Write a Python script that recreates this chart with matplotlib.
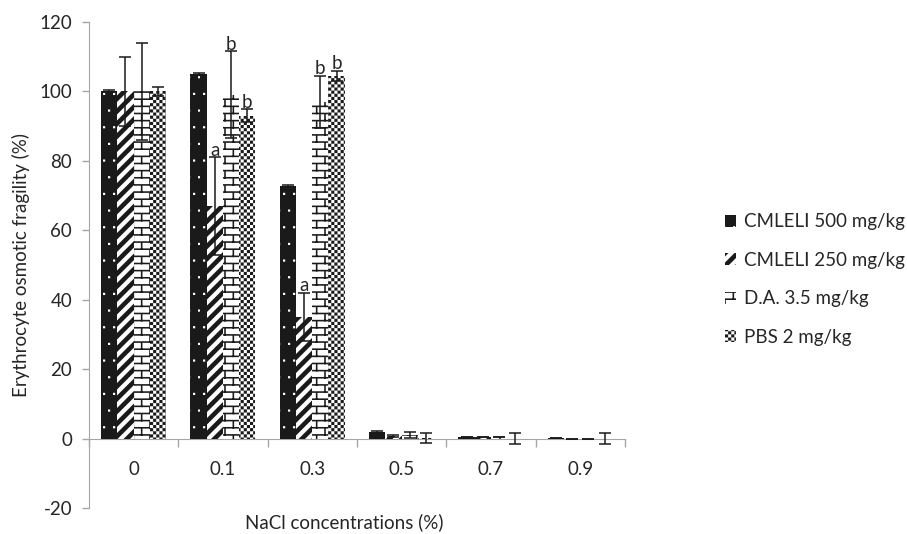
import warnings
import numpy as np
import matplotlib
matplotlib.use('Agg')
import matplotlib.pyplot as plt
import matplotlib.hatch as mhatch
from matplotlib.path import Path

warnings.filterwarnings('ignore')

# ---------------------------------------------------------------- data
nacl = ['0', '0.1', '0.3', '0.5', '0.7', '0.9']
groups = ['CMLELI 500 mg/kg', 'CMLELI 250 mg/kg', 'D.A. 3.5 mg/kg', 'PBS 2 mg/kg']
cmleli500 = [100.0, 105.0, 72.6, 1.8, 0.4, 0.3]
cmleli250 = [100.0, 67.0, 35.0, 0.8, 0.5, 0.0]
da35 = [100.0, 99.0, 97.0, 1.0, 0.5, 0.0]
pbs2 = [100.0, 93.0, 104.5, 0.2, 0.0, 0.0]
err500 = [0.3, 0.3, 0.3, 0.5, 0.0, 0.0]
err250 = [10.0, 14.0, 7.0, 0.3, 0.0, 0.0]
err_da = [14.0, 12.5, 7.5, 0.8, 0.0, 0.0]
err_pbs = [1.2, 1.8, 1.5, 1.5, 1.5, 1.5]
# letters: (group index, series index, letter)
letters = [(1, 1, 'a'), (1, 2, 'b'), (1, 3, 'b'), (2, 1, 'a'), (2, 2, 'b'), (2, 3, 'b')]


# ---------------------------------------------------------------- custom hatches (filled shapes)
def rect(x0, y0, w, h):
    return [(x0, y0), (x0 + w, y0), (x0 + w, y0 + h), (x0, y0 + h), (x0, y0)]


def dots_shapes():
    out = []
    for j in range(6):
        for i in range(10):
            x = (i + 0.5 * (j % 2)) / 10.0 + 0.03
            y = j / 6.0 + 0.05
            out.append(rect(x, y, 0.022, 0.022))
    return out


def stripe_shapes():
    out = []
    n, w = 8, 0.065
    for k in range(-n - 1, n + 1):
        x = k / n
        out.append([(x, 0), (x + w, 0), (x + w + 1, 1), (x + 1, 1), (x, 0)])
    return out


def brick_shapes():
    out = []
    rows, cols, t = 14, 6, 0.016
    h, bw = 1.0 / rows, 1.0 / cols
    for j in range(rows):
        out.append(rect(0, j * h, 1, t))
        for i in range(cols + 1):
            x = (i + 0.5 * (j % 2)) * bw
            out.append(rect(x - t / 2, j * h, t, h))
    return out


def checker_shapes():
    out = []
    n = 32
    s = 1.0 / n
    for j in range(n):
        for i in range(n):
            if (i + j) % 2 == 0:
                out.append(rect(i * s, j * s, s, s))
    return out


class ShapeHatch(mhatch.HatchPatternBase):
    key = None
    maker = None

    def __init__(self, hatch, density):
        self.shapes = self.maker() if self.key in hatch else []
        self.num_vertices = sum(len(s) for s in self.shapes)

    def set_vertices_and_codes(self, vertices, codes):
        c = 0
        for s in self.shapes:
            m = len(s)
            vertices[c:c + m] = s
            codes[c] = Path.MOVETO
            codes[c + 1:c + m - 1] = Path.LINETO
            codes[c + m - 1] = Path.CLOSEPOLY
            c += m


def make_hatch(key, fn):
    return type('Hatch_' + key, (ShapeHatch,), {'key': key, 'maker': staticmethod(fn)})


mhatch._hatch_types.extend([
    make_hatch('d', dots_shapes),
    make_hatch('s', stripe_shapes),
    make_hatch('b', brick_shapes),
    make_hatch('c', checker_shapes),
])

# ---------------------------------------------------------------- plot
plt.rcParams['font.family'] = ['Lato', 'DejaVu Sans']
plt.rcParams['hatch.linewidth'] = 0.0
plt.rcParams['axes.unicode_minus'] = False

fig = plt.figure(figsize=(9.07, 5.34), dpi=100)
ax = fig.add_axes([0.098, 0.0487, 0.591, 0.9103])

x = np.arange(len(nacl))
bw = 0.182
series = [cmleli500, cmleli250, da35, pbs2]
errs = [err500, err250, err_da, err_pbs]
styles = [
    dict(facecolor='#1a1a1a', edgecolor='white', hatch='d'),
    dict(facecolor='white', edgecolor='#1a1a1a', hatch='s'),
    dict(facecolor='white', edgecolor='#1a1a1a', hatch='b'),
    dict(facecolor='white', edgecolor='#1a1a1a', hatch='c'),
]
for k in range(4):
    pos = x + (k - 1.5) * bw
    ax.bar(pos, series[k], width=bw, linewidth=0, label=groups[k], zorder=2, **styles[k])
    ax.errorbar(pos, series[k], yerr=errs[k], fmt='none', ecolor='#1a1a1a',
                elinewidth=1.1, capsize=4.5, capthick=1.1, zorder=3)

for g, k, t in letters:
    ax.text(x[g] + (k - 1.5) * bw, series[k][g] + errs[k][g] - 0.5, t,
            ha='center', va='bottom', fontsize=13.5, color='#262626', zorder=4)

ax.set_xlim(-0.5, len(nacl) - 0.5)
ax.set_ylim(-20, 120)
ax.set_yticks(np.arange(-20, 121, 20))
ax.set_xticks(x)
ax.set_xticklabels(nacl)
ax.set_xticks(np.arange(-0.5, len(nacl), 1.0), minor=True)

for side in ['top', 'right']:
    ax.spines[side].set_visible(False)
ax.spines['left'].set_color('#a6a6a6')
ax.spines['bottom'].set_color('#a6a6a6')
ax.spines['bottom'].set_position(('data', 0))
ax.spines['bottom'].set_zorder(1)

ax.tick_params(axis='y', colors='#a6a6a6', labelcolor='#262626', labelsize=13.5,
               length=5, width=1, pad=7)
ax.tick_params(axis='x', which='major', length=0, pad=16, labelsize=13.5, labelcolor='#262626')
ax.tick_params(axis='x', which='minor', length=6, width=1, colors='#a6a6a6')

ax.set_ylabel('Erythrocyte osmotic fragility (%)', fontsize=13.5, color='#262626', labelpad=7)
fig.text(0.38, 0.022, 'NaCl concentrations (%)', ha='center', va='center',
         fontsize=13.5, color='#262626')

leg = ax.legend(loc='center left', bbox_to_anchor=(1.155, 0.47), frameon=False,
                fontsize=13.5, handlelength=0.6, handleheight=0.6, handletextpad=0.4,
                labelspacing=1.15, labelcolor='#262626')

fig.savefig('out.png', dpi=100)
